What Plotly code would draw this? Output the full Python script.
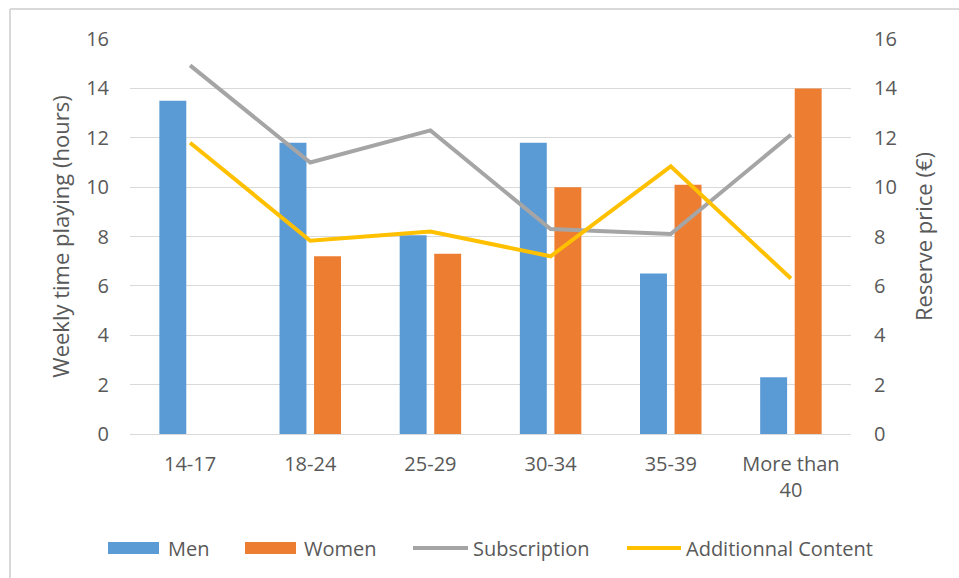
import plotly.graph_objects as go

categories = ["14-17", "18-24", "25-29", "30-34", "35-39", "More than<br>40"]
men = [13.5, 11.8, 8.05, 11.8, 6.5, 2.3]
women = [None, 7.2, 7.3, 10.0, 10.1, 14.0]
subscription = [14.93, 11.0, 12.3, 8.3, 8.1, 12.12]
additional = [11.8, 7.83, 8.2, 7.2, 10.84, 6.3]
ticks = [0, 2, 4, 6, 8, 10, 12, 14, 16]

series_names = ["Men", "Women", "Subscription", "Additionnal Content"]
colors = ["#5B9BD5", "#ED7D31", "#A5A5A5", "#FFC000"]

font = dict(family="Open Sans, Liberation Sans, sans-serif", color="#595959")

fig = go.Figure()
fig.add_trace(go.Bar(x=categories, y=men, name=series_names[0], marker=dict(color=colors[0], line=dict(width=0))))
fig.add_trace(go.Bar(x=categories, y=women, name=series_names[1], marker=dict(color=colors[1], line=dict(width=0))))
fig.add_trace(go.Scatter(x=categories, y=subscription, name=series_names[2], mode="lines",
                         line=dict(color=colors[2], width=4), yaxis="y2"))
fig.add_trace(go.Scatter(x=categories, y=additional, name=series_names[3], mode="lines",
                         line=dict(color=colors[3], width=4), yaxis="y2"))

L, R, T, B = 130, 108, 39, 144
PW, PH = 959 - L - R, 578 - T - B


def px(x):
    return (x - L) / PW


def py(y):
    return (434 - y) / PH


shapes = [
    dict(type="line", xref="paper", yref="paper", x0=px(10), x1=px(10), y0=py(578), y1=py(9),
         line=dict(color="#D9D9D9", width=2), layer="below"),
    dict(type="line", xref="paper", yref="paper", x0=px(10), x1=px(959), y0=py(9), y1=py(9),
         line=dict(color="#D9D9D9", width=2), layer="below"),
]
annotations = []
# custom legend: (swatch start, swatch end, text start, kind)
legend_items = [(108, 159, 166, "rect"), (245, 296, 302, "rect"), (413, 468, 471, "line"), (627, 681, 684, "line")]
for (s0, s1, t0, kind), name, col in zip(legend_items, series_names, colors):
    if kind == "rect":
        shapes.append(dict(type="rect", xref="paper", yref="paper", x0=px(s0), x1=px(s1),
                           y0=py(554), y1=py(542), fillcolor=col, line=dict(width=0)))
    else:
        shapes.append(dict(type="line", xref="paper", yref="paper", x0=px(s0), x1=px(s1),
                           y0=py(548), y1=py(548), line=dict(color=col, width=4)))
    annotations.append(dict(text=name, xref="paper", yref="paper", x=px(t0), y=py(548),
                            xanchor="left", yanchor="middle", showarrow=False,
                            font=dict(size=20, **font)))

fig.update_layout(
    width=959, height=578,
    margin=dict(l=L, r=R, t=T, b=B, autoexpand=False),
    paper_bgcolor="white", plot_bgcolor="white",
    font=dict(size=20, **font),
    barmode="group", bargap=0.425, bargroupgap=0.22,
    showlegend=False,
    xaxis=dict(showgrid=False, tickfont=dict(size=20, **font), showline=False, ticks="",
               ticklabelstandoff=16),
    yaxis=dict(range=[0, 16], tickvals=ticks, gridcolor="#D9D9D9", gridwidth=1,
               zeroline=True, zerolinecolor="#D9D9D9", zerolinewidth=1,
               tickfont=dict(size=20, **font), ticklabelstandoff=20,
               title=dict(text="Weekly time playing (hours)", font=dict(size=22, **font), standoff=10)),
    yaxis2=dict(range=[0, 16], tickvals=ticks, overlaying="y", side="right", showgrid=False,
                zeroline=False, tickfont=dict(size=20, **font), ticklabelstandoff=22,
                title=dict(text="Reserve price (€)", font=dict(size=22, **font), standoff=20)),
    shapes=shapes,
    annotations=annotations,
)

fig.write_html("out.html", config={"displayModeBar": False},
               post_script="document.body.style.margin='0';document.body.style.overflow='hidden';")
